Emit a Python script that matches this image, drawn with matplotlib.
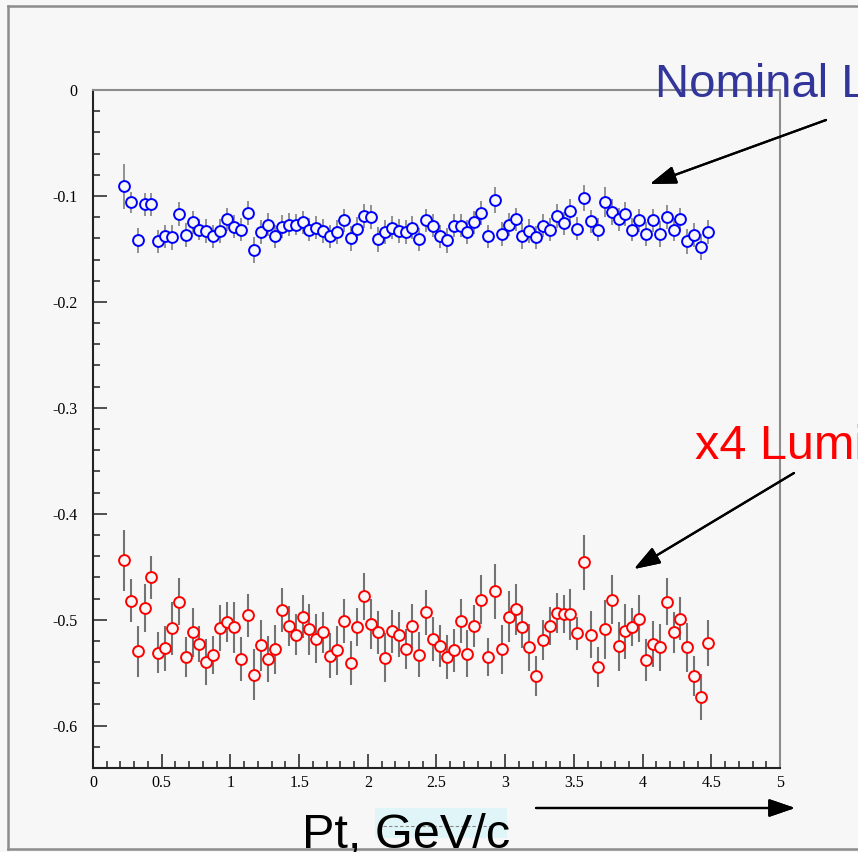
import matplotlib
matplotlib.use('Agg')
import matplotlib.pyplot as plt
from matplotlib.lines import Line2D
from matplotlib.patches import Rectangle
import numpy as np

# bin centres in Pt (GeV/c)
pt = 0.225 + 0.05 * np.arange(86)

nominal = [-0.091, -0.106, -0.142, -0.108, -0.108, -0.143, -0.138, -0.139, -0.117, -0.137,
           -0.125, -0.132, -0.133, -0.138, -0.133, -0.122, -0.129, -0.132, -0.116, -0.151,
           -0.134, -0.127, -0.138, -0.129, -0.127, -0.127, -0.125, -0.132, -0.130, -0.133,
           -0.138, -0.134, -0.123, -0.140, -0.131, -0.119, -0.120, -0.141, -0.134, -0.130,
           -0.133, -0.134, -0.130, -0.141, -0.123, -0.128, -0.138, -0.142, -0.128, -0.128,
           -0.134, -0.125, -0.116, -0.138, -0.104, -0.136, -0.127, -0.122, -0.138, -0.133,
           -0.139, -0.128, -0.132, -0.119, -0.126, -0.114, -0.131, -0.102, -0.124, -0.132,
           -0.106, -0.115, -0.122, -0.117, -0.132, -0.123, -0.136, -0.123, -0.136, -0.120,
           -0.132, -0.122, -0.143, -0.137, -0.148, -0.134]
nominal_err = [0.021, 0.010, 0.012, 0.011, 0.011, 0.011, 0.011, 0.012, 0.011, 0.011,
               0.011, 0.010, 0.011, 0.011, 0.011, 0.011, 0.011, 0.011, 0.011, 0.012,
               0.011, 0.011, 0.011, 0.011, 0.011, 0.010, 0.011, 0.011, 0.011, 0.011,
               0.011, 0.011, 0.011, 0.012, 0.011, 0.011, 0.011, 0.012, 0.011, 0.011,
               0.011, 0.011, 0.011, 0.011, 0.011, 0.011, 0.011, 0.012, 0.011, 0.011,
               0.011, 0.011, 0.011, 0.011, 0.012, 0.011, 0.011, 0.011, 0.012, 0.011,
               0.011, 0.011, 0.011, 0.011, 0.011, 0.011, 0.011, 0.012, 0.011, 0.011,
               0.014, 0.012, 0.011, 0.011, 0.011, 0.011, 0.011, 0.011, 0.012, 0.011,
               0.011, 0.011, 0.012, 0.011, 0.012, 0.011]

lumi4 = [-0.444, -0.482, -0.530, -0.489, -0.460, -0.531, -0.527, -0.508, -0.483, -0.535,
         -0.512, -0.523, -0.540, -0.533, -0.508, -0.502, -0.507, -0.537, -0.496, -0.552,
         -0.524, -0.537, -0.528, -0.491, -0.506, -0.514, -0.497, -0.509, -0.518, -0.512,
         -0.534, -0.529, -0.501, -0.541, -0.507, -0.478, -0.504, -0.512, -0.536, -0.511,
         -0.514, -0.528, -0.506, -0.533, -0.493, -0.518, -0.525, -0.535, -0.529, -0.501,
         -0.532, -0.506, -0.481, -0.535, -0.473, -0.528, -0.497, -0.490, -0.507, -0.526,
         -0.553, -0.519, -0.506, -0.494, -0.495, -0.495, -0.513, -0.446, -0.514, -0.545,
         -0.509, -0.481, -0.525, -0.511, -0.507, -0.499, -0.538, -0.523, -0.526, -0.483,
         -0.512, -0.499, -0.526, -0.553, -0.573, -0.522]
lumi4_err = [0.029, 0.020, 0.024, 0.023, 0.020, 0.019, 0.021, 0.025, 0.022, 0.019,
             0.023, 0.017, 0.022, 0.018, 0.022, 0.019, 0.024, 0.021, 0.020, 0.024,
             0.024, 0.022, 0.023, 0.021, 0.019, 0.019, 0.020, 0.024, 0.023, 0.019,
             0.021, 0.023, 0.021, 0.021, 0.018, 0.022, 0.024, 0.020, 0.023, 0.020,
             0.021, 0.019, 0.021, 0.021, 0.021, 0.021, 0.020, 0.021, 0.020, 0.021,
             0.022, 0.020, 0.023, 0.018, 0.026, 0.023, 0.024, 0.024, 0.020, 0.022,
             0.019, 0.019, 0.018, 0.019, 0.018, 0.024, 0.016, 0.026, 0.022, 0.019,
             0.028, 0.023, 0.023, 0.026, 0.018, 0.022, 0.020, 0.022, 0.022, 0.022,
             0.019, 0.020, 0.023, 0.019, 0.022, 0.022]

xticks = [0, 0.5, 1, 1.5, 2, 2.5, 3, 3.5, 4, 4.5, 5]
xlabels = ['0', '0.5', '1', '1.5', '2', '2.5', '3', '3.5', '4', '4.5', '5']
yticks = [0, -0.1, -0.2, -0.3, -0.4, -0.5, -0.6]
ylabels = ['0', '-0.1', '-0.2', '-0.3', '-0.4', '-0.5', '-0.6']

W, H = 858, 852
bg = '#f7f7f7'
fig = plt.figure(figsize=(W / 100, H / 100), dpi=100, facecolor=bg)


def fx(px):
    return px / W


def fy(py):
    return 1 - py / H


ax = fig.add_axes([fx(93), fy(768), fx(780) - fx(93), fy(90) - fy(768)], facecolor=bg)

ax.errorbar(pt, nominal, yerr=nominal_err, fmt='none', ecolor='#808080', elinewidth=1.2, zorder=2)
ax.plot(pt, nominal, 'o', ms=7.8, mfc=bg, mec='#0000ff', mew=1.4, zorder=3)
ax.errorbar(pt, lumi4, yerr=lumi4_err, fmt='none', ecolor='#737373', elinewidth=1.5, zorder=2)
ax.plot(pt, lumi4, 'o', ms=7.8, mfc=bg, mec='#ff0000', mew=1.4, zorder=3)

ax.set_xlim(0, 5)
ax.set_ylim(-0.64, 0)
ax.set_xticks(xticks)
ax.set_xticklabels(xlabels)
ax.set_xticks(np.arange(0, 5.01, 0.1), minor=True)
ax.set_yticks(yticks)
ax.set_yticklabels(ylabels)
ax.set_yticks(np.arange(-0.64, 0.001, 0.02), minor=True)

for lab in ax.get_xticklabels() + ax.get_yticklabels():
    lab.set_fontfamily('Liberation Serif')
    lab.set_fontsize(11.5)
ax.tick_params(which='both', direction='in', top=False, right=False, color='#222222', width=1.1)
ax.tick_params(which='major', length=10)
ax.tick_params(which='minor', length=5)
ax.tick_params(axis='y', which='major', pad=11)
ax.tick_params(axis='x', which='major', pad=5)

for side in ['left', 'bottom']:
    ax.spines[side].set_color('#222222')
    ax.spines[side].set_linewidth(1.5)
for side in ['top', 'right']:
    ax.spines[side].set_color('#8c8c8c')
    ax.spines[side].set_linewidth(1.5)

# outer slide frame
for xs, ys in [([8, 8], [6, 849]), ([8, W], [6, 6]), ([8, W], [849, 849])]:
    fig.add_artist(Line2D([fx(v) for v in xs], [fy(v) for v in ys], transform=fig.transFigure,
                          color='#8c8c8c', lw=1.8))

# labels and arrows (the slide text runs past the right edge)
fig.text(fx(655), fy(97), 'Nominal Luminosity', color='#32359a', fontsize=34,
         family='Liberation Sans', va='baseline')
fig.text(fx(695), fy(459), 'x4 Luminosity', color='#ff0000', fontsize=35,
         family='Liberation Sans', va='baseline')

arrow = dict(arrowstyle='-|>,head_length=1.6,head_width=0.55', mutation_scale=10,
             color='black', lw=1.6, shrinkA=0, shrinkB=0)
fig.add_artist(plt.annotate('', xy=(fx(650), fy(184)), xytext=(fx(826), fy(120)),
                            xycoords='figure fraction', arrowprops=arrow))
fig.add_artist(plt.annotate('', xy=(fx(634), fy(569)), xytext=(fx(794), fy(473)),
                            xycoords='figure fraction', arrowprops=arrow))
fig.add_artist(plt.annotate('', xy=(fx(795), fy(808)), xytext=(fx(536), fy(808)),
                            xycoords='figure fraction', arrowprops=arrow))

fig.add_artist(Rectangle((fx(375), fy(838)), fx(507) - fx(375), fy(808) - fy(838),
                         transform=fig.transFigure, facecolor='#e0f5f7', edgecolor='none', zorder=0))
fig.add_artist(Line2D([fx(383), fx(492)], [fy(826), fy(826)], transform=fig.transFigure,
                      color='#888888', lw=0.8, ls=(0, (3, 2))))
fig.text(fx(302), fy(848), 'Pt, GeV/c', color='black', fontsize=35,
         family='Liberation Sans', va='baseline')

fig.savefig('out.png', dpi=100, facecolor=bg)
